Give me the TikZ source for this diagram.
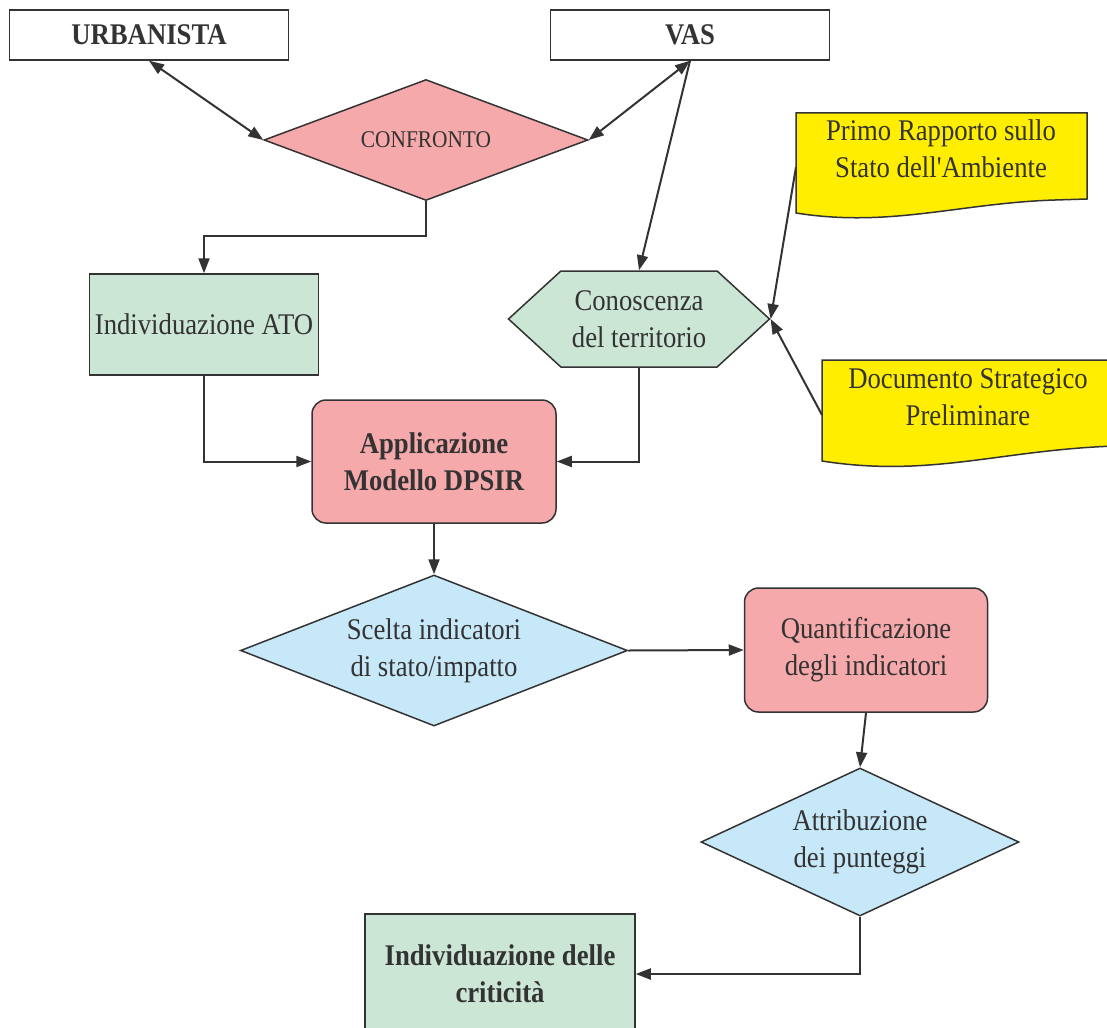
\documentclass[tikz,border=0pt]{standalone}
\usepackage{fontspec}
\setmainfont{Liberation Serif}[FakeStretch=0.89]
\newfontface\plainapos{Liberation Serif}[FakeStretch=0.89,Ligatures=TeXOff]
\usetikzlibrary{arrows.meta,shapes.geometric,shapes.symbols,calc}
\definecolor{pinkf}{HTML}{F6A9AB}
\definecolor{greenf}{HTML}{CBE6D5}
\definecolor{bluef}{HTML}{C6E8F8}
\definecolor{yelf}{HTML}{FFEE00}
\definecolor{ink}{HTML}{333333}
\begin{document}
\begin{tikzpicture}[x=1pt,y=-1pt,
  every node/.style={font=\fontsize{30}{37}\selectfont, text=ink, align=center, inner sep=0pt},
  bld/.style={font=\fontsize{30}{37}\selectfont\bfseries},
  box/.style={draw=ink, line width=1.5pt},
  tip/.style={-{Triangle[length=15pt,width=11pt]}},
  conn/.style={draw=ink, line width=2pt, tip},
  dconn/.style={draw=ink, line width=2pt, {Triangle[length=15pt,width=11pt]}-{Triangle[length=15pt,width=11pt]}},
]
\useasboundingbox (0,0) rectangle (1107,1027);

% documents (yellow)
\draw[box, fill=yelf] (796,113) -- (1087,113) -- (1087,199) -- (1055,200)
  .. controls (960,203) and (890,228) .. (796,213) -- cycle;
\draw[box, fill=yelf] (822,360) -- (1115,360) -- (1115,446)
  .. controls (1000,450) and (930,478) .. (822,461) -- cycle;
\node (d1) at (941,149) {Primo Rapporto sullo\\Stato dell{\plainapos'}Ambiente};
\node (d2) at (968,397) {Documento Strategico\\Preliminare};
\coordinate (d1w) at (796,167);
\coordinate (d2w) at (822,415);

% nodes
\node[box, fill=white, minimum width=279pt, minimum height=50pt, bld] (urb) at (149,35) {URBANISTA};
\node[box, fill=white, minimum width=279pt, minimum height=50pt, bld] (vas) at (690,35) {VAS};
\node[box, diamond, aspect=2.68, fill=pinkf, minimum width=324pt, minimum height=121pt,
      font=\fontsize{24}{28}\selectfont] (conf) at (426,140) {CONFRONTO};
\node[box, fill=greenf, minimum width=229pt, minimum height=101pt] (ato) at (204,324.5) {Individuazione ATO};
\node[box, signal, signal to=west and east, signal pointer angle=85, fill=greenf,
      minimum width=261pt, minimum height=96pt] (con) at (639,319) {Conoscenza\\del territorio};
\node[box, rounded corners=14pt, fill=pinkf, minimum width=244pt, minimum height=123pt, bld] (app) at (434,461.5) {Applicazione\\Modello DPSIR};
\node[box, diamond, aspect=2.56, fill=bluef, minimum width=387pt, minimum height=151pt] (sc) at (434,650.5) {Scelta indicatori\\di stato/impatto};
\node[box, rounded corners=14pt, fill=pinkf, minimum width=243pt, minimum height=124pt] (qu) at (866,650) {Quantificazione\\degli indicatori};
\node[box, diamond, aspect=2.15, fill=bluef, minimum width=318pt, minimum height=148pt] (at) at (860,842) {Attribuzione\\dei punteggi};
\node[box, fill=greenf, minimum width=270pt, minimum height=120pt, bld] (cr) at (500,974) {Individuazione delle\\criticità};

% connectors
\draw[dconn] (urb.south) -- (conf.west);
\draw[dconn] (vas.south) -- (conf.east);
\draw[conn] (vas.south) -- (con.north);
\draw[conn] (d1w) -- (con.east);
\draw[conn] (d2w) -- (con.east);
\coordinate (k1) at (204,236);
\draw[conn] (conf.south) |- (k1) -- (ato.north);
\draw[conn] (ato.south) |- (app.west);
\draw[conn] (con.south) |- (app.east);
\draw[conn] (app.south) -- (sc.north);
\draw[conn] (sc.east) -- (qu.west);
\draw[conn] (qu.south) -- (at.north);
\draw[conn] (at.south) |- (cr.east);
\end{tikzpicture}
\end{document}
